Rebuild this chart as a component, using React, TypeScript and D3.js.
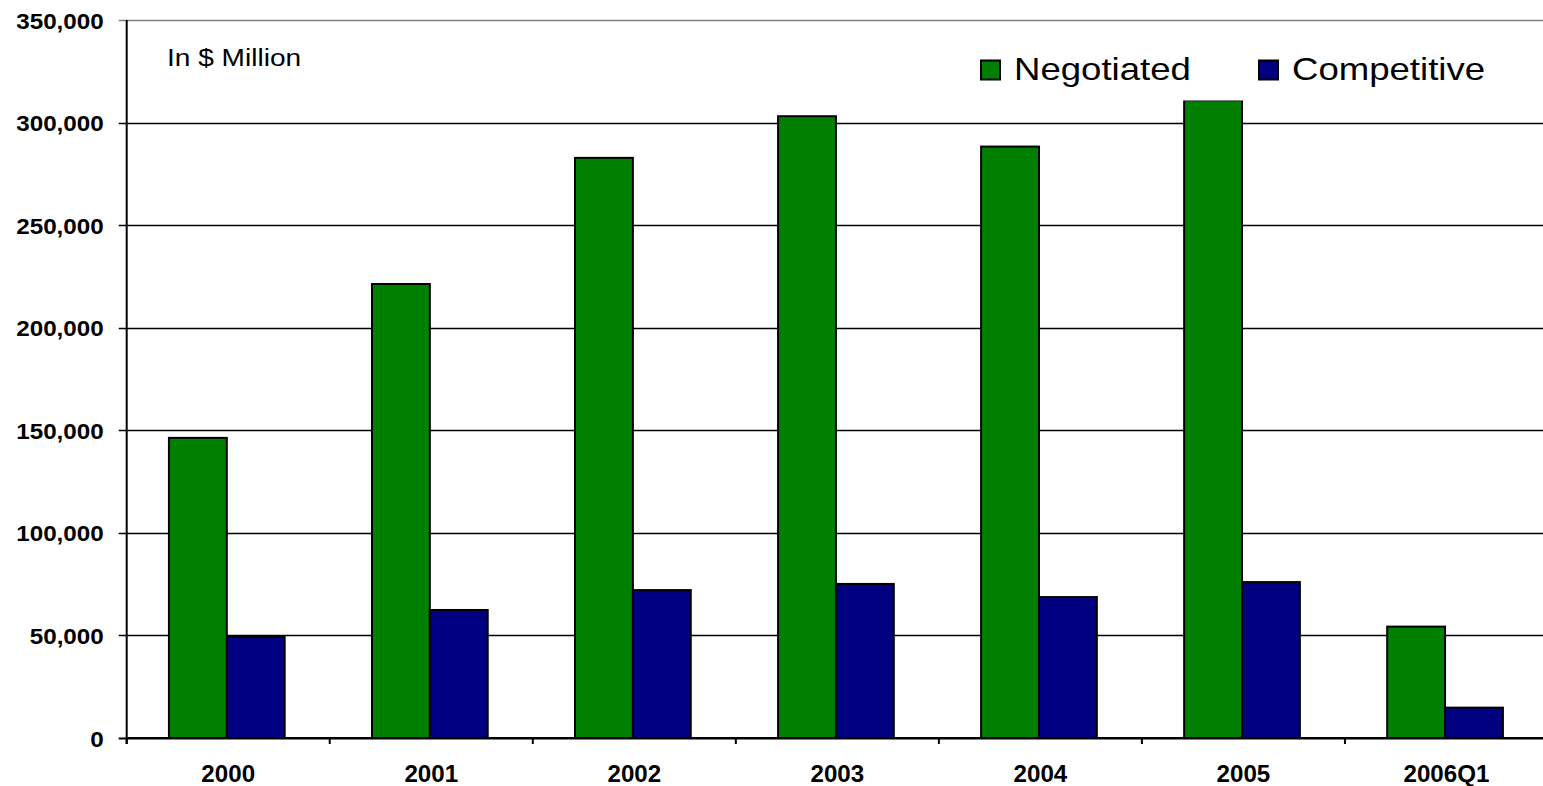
import React from "react";
import * as d3 from "d3";

const categories = ["2000", "2001", "2002", "2003", "2004", "2005", "2006Q1"];
const negotiated = [146300, 221300, 282800, 303100, 288300, 310900, 54300];
const competitive = [49300, 62400, 72100, 75100, 68700, 76000, 14800];
const seriesNames = ["Negotiated", "Competitive"];
const seriesColors = ["#008000", "#000080"];
const yTicks = [0, 50000, 100000, 150000, 200000, 250000, 300000, 350000];
const unitNote = "In $ Million";

const W = 1543;
const H = 786;
const left = 126.7;
const right = 1548;
const top = 20;
const bottom = 738;
const FONT = "Arial, 'Liberation Sans', Helvetica, sans-serif";

export default function App() {
  const y = d3.scaleLinear().domain([0, 350000]).range([bottom, top]);
  const x = d3.scaleBand<string>().domain(categories).range([left, right]).padding(0);
  const step = x.step();
  const x1 = d3
    .scaleBand<string>()
    .domain(seriesNames)
    .range([0.208 * step, 0.208 * step + 2 * 0.285 * step])
    .padding(0);
  const fmt = d3.format(",");
  const data = [negotiated, competitive];

  const boundaries = d3.range(categories.length + 1).map((i) => left + i * step);

  return (
    <svg
      width={W}
      height={H}
      style={{ position: "absolute", left: 0, top: 0, display: "block", background: "#fff" }}
      fontFamily={FONT}
    >
      {yTicks.map((t) => (
        <line
          key={"g" + t}
          x1={left - 8}
          x2={W}
          y1={Math.round(y(t)) + 0.5}
          y2={Math.round(y(t)) + 0.5}
          stroke={t === 350000 ? "#808080" : "#000"}
          strokeWidth={t === 0 ? 2 : 1.4}
        />
      ))}
      {yTicks.map((t) => (
        <text
          key={"yl" + t}
          transform={`translate(${left - 23},${y(t) + 8.5}) scale(1.1,1)`}
          textAnchor="end"
          fontSize={22}
          fontWeight="bold"
          fill="#000"
        >
          {fmt(t)}
        </text>
      ))}
      {categories.map((c, i) => (
        <g key={"b" + c}>
          {seriesNames.map((s, si) => {
            const v = data[si][i];
            return (
              <rect
                key={s}
                x={(x(c) as number) + (x1(s) as number)}
                y={y(v)}
                width={x1.bandwidth()}
                height={y(0) - y(v)}
                fill={seriesColors[si]}
                stroke="#000"
                strokeWidth={2}
              />
            );
          })}
        </g>
      ))}
      <line x1={left} x2={left} y1={top} y2={bottom + 6} stroke="#000" strokeWidth={2} />
      <line x1={left} x2={W} y1={bottom} y2={bottom} stroke="#000" strokeWidth={2} />
      {boundaries.map((b, i) => (
        <line key={"xt" + i} x1={b} x2={b} y1={bottom} y2={bottom + 6} stroke="#000" strokeWidth={2} />
      ))}
      {categories.map((c) => (
        <text
          key={"xl" + c}
          transform={`translate(${(x(c) as number) + step / 2},${782}) scale(1.05,1)`}
          textAnchor="middle"
          fontSize={23}
          fontWeight="bold"
          fill="#000"
        >
          {c}
        </text>
      ))}
      <text transform={`translate(167,65.5) scale(1.17,1)`} fontSize={24} fill="#000">
        {unitNote}
      </text>
      <rect x={965} y={40} width={540} height={60.5} fill="#fff" />
      {seriesNames.map((s, si) => {
        const lx = si === 0 ? 981 : 1259;
        return (
          <g key={"lg" + s}>
            <rect x={lx} y={60.5} width={19} height={19} fill={seriesColors[si]} stroke="#000" strokeWidth={2} />
            <text transform={`translate(${lx + 33},80) scale(1.18,1)`} fontSize={31} fill="#000">
              {s}
            </text>
          </g>
        );
      })}
    </svg>
  );
}
